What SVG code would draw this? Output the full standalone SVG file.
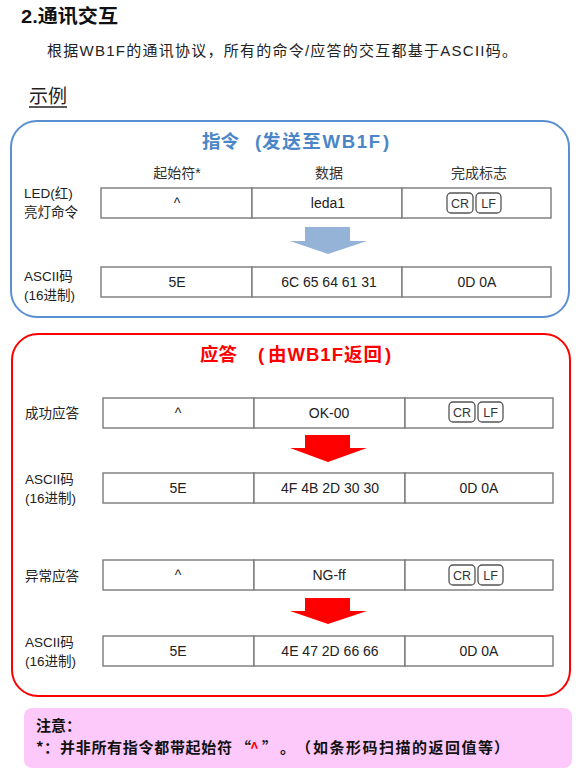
<svg xmlns="http://www.w3.org/2000/svg" width="580" height="771" viewBox="0 0 580 771">
<style>
text{font-family:"Liberation Sans","Noto Sans CJK SC",sans-serif;fill:#222}
.cjk{font-family:"Noto Sans CJK SC","Liberation Sans",sans-serif}
.h1{font-size:19px;font-weight:bold;fill:#111}
.p{font-size:15px}
.lbl{font-size:13.5px}
.hd{font-size:14px;fill:#333}
.c{font-size:14px;text-anchor:middle}
.cell{fill:#fff;stroke:#7a7a7a;stroke-width:1.4}
.key{fill:#fff;stroke:#555;stroke-width:1.3}
.kt{font-size:12.5px;text-anchor:middle;fill:#333}
.note{font-size:15px;font-weight:bold;fill:#111}
.t{font-size:18.5px;font-weight:bold}
</style>
<rect width="580" height="771" fill="#fff"/>
<text class="h1" x="21" y="23" textLength="97" lengthAdjust="spacingAndGlyphs">2.通讯交互</text>
<text class="p" x="47" y="56" textLength="470">根据WB1F的通讯协议，所有的命令/应答的交互都基于ASCII码。</text>
<text x="29" y="103" style="font-size:19px;fill:#222">示例</text>
<line x1="29" y1="107" x2="67" y2="107" stroke="#222" stroke-width="1.5"/>

<g id="cmd-box">
<rect x="11" y="121" width="558" height="196" rx="26" fill="#fff" stroke="#5a8fd2" stroke-width="2"/>
<text class="t" y="148" style="fill:#4a86c8"><tspan x="202">指令</tspan><tspan x="255">(</tspan><tspan x="262" textLength="118">发送至WB1F</tspan><tspan x="383">)</tspan></text>
<text class="hd" x="177" y="178" text-anchor="middle">起始符*</text>
<text class="hd" x="329" y="178" text-anchor="middle">数据</text>
<text class="hd" x="479" y="178" text-anchor="middle">完成标志</text>
</g>

<g id="cmd-row">
<text class="lbl" x="24" y="198">LED(红)</text>
<text class="lbl" x="24" y="217">亮灯命令</text>
<rect class="cell" x="101" y="188" width="151" height="30"/>
<rect class="cell" x="252" y="188" width="150" height="30"/>
<rect class="cell" x="402" y="188" width="149" height="30"/>
<text class="c" x="177" y="208">^</text>
<text class="c" x="328" y="208">leda1</text>
<rect class="key" x="447" y="193" width="26" height="20" rx="4"/>
<text class="kt" x="460" y="208">CR</text>
<rect class="key" x="476" y="193" width="25" height="20" rx="4"/>
<text class="kt" x="488.5" y="208">LF</text>
</g>

<g id="cmd-ascii">
<text class="lbl" x="24" y="281">ASCII码</text>
<text class="lbl" x="24" y="300">(16进制)</text>
<rect class="cell" x="101" y="267" width="151" height="30"/>
<rect class="cell" x="252" y="267" width="150" height="30"/>
<rect class="cell" x="402" y="267" width="149" height="30"/>
<text class="c" x="177" y="287">5E</text>
<text class="c" x="329" y="287">6C 65 64 61 31</text>
<text class="c" x="477" y="287">0D 0A</text>
</g>

<g id="resp-box">
<rect x="12" y="334" width="558" height="362" rx="26" fill="#fff" stroke="#ff0000" stroke-width="2"/>
<text class="t" y="361" style="fill:#ff0000"><tspan x="200">应答</tspan><tspan x="258">(</tspan><tspan x="268" textLength="114">由WB1F返回</tspan><tspan x="385">)</tspan></text>
</g>

<g id="ok-row">
<text class="lbl" x="25" y="418">成功应答</text>
<rect class="cell" x="103" y="398" width="151" height="30"/>
<rect class="cell" x="254" y="398" width="151" height="30"/>
<rect class="cell" x="405" y="398" width="148" height="30"/>
<text class="c" x="178" y="418">^</text>
<text class="c" x="329" y="418">OK-00</text>
<rect class="key" x="449" y="402" width="26" height="20" rx="4"/>
<text class="kt" x="462" y="417">CR</text>
<rect class="key" x="478" y="402" width="25" height="20" rx="4"/>
<text class="kt" x="490.5" y="417">LF</text>
</g>

<g id="ok-ascii">
<text class="lbl" x="25" y="484">ASCII码</text>
<text class="lbl" x="25" y="503">(16进制)</text>
<rect class="cell" x="103" y="473" width="151" height="30"/>
<rect class="cell" x="254" y="473" width="151" height="30"/>
<rect class="cell" x="405" y="473" width="148" height="30"/>
<text class="c" x="178" y="493">5E</text>
<text class="c" x="330" y="493">4F 4B 2D 30 30</text>
<text class="c" x="479" y="493">0D 0A</text>
</g>

<g id="ng-row">
<text class="lbl" x="25" y="581">异常应答</text>
<rect class="cell" x="103" y="560" width="151" height="30"/>
<rect class="cell" x="254" y="560" width="151" height="30"/>
<rect class="cell" x="405" y="560" width="148" height="30"/>
<text class="c" x="178" y="580">^</text>
<text class="c" x="329" y="580">NG-ff</text>
<rect class="key" x="449" y="565" width="26" height="20" rx="4"/>
<text class="kt" x="462" y="580">CR</text>
<rect class="key" x="478" y="565" width="25" height="20" rx="4"/>
<text class="kt" x="490.5" y="580">LF</text>
</g>

<g id="ng-ascii">
<text class="lbl" x="25" y="647">ASCII码</text>
<text class="lbl" x="25" y="666">(16进制)</text>
<rect class="cell" x="103" y="636" width="151" height="30"/>
<rect class="cell" x="254" y="636" width="151" height="30"/>
<rect class="cell" x="405" y="636" width="148" height="30"/>
<text class="c" x="178" y="656">5E</text>
<text class="c" x="330" y="656">4E 47 2D 66 66</text>
<text class="c" x="479" y="656">0D 0A</text>
</g>

<g id="connectors">
<polygon points="305,227 350,227 350,241 367,241 328,254 290,241 305,241" fill="#95b3d7"/>
<polygon points="305,435 350,435 350,448 367,448 328,462 290,448 305,448" fill="#ff0000"/>
<polygon points="305,598 350,598 350,611 367,611 328,624 290,611 305,611" fill="#ff0000"/>
</g>

<g id="note">
<rect x="24" y="708" width="548" height="60" rx="8" fill="#fdc9fb"/>
<text class="note cjk" x="36" y="731">注意：</text>
<text class="note cjk" y="753"><tspan x="36">*</tspan><tspan x="44">：</tspan><tspan x="60" textLength="172">并非所有指令都带起始符</tspan><tspan x="236">“</tspan><tspan x="250" fill="#ff0000">^</tspan><tspan x="262">”</tspan><tspan x="280">。</tspan><tspan x="296">（</tspan><tspan x="313" textLength="180">如条形码扫描的返回值等</tspan><tspan x="494">）</tspan></text>
</g>
</svg>
